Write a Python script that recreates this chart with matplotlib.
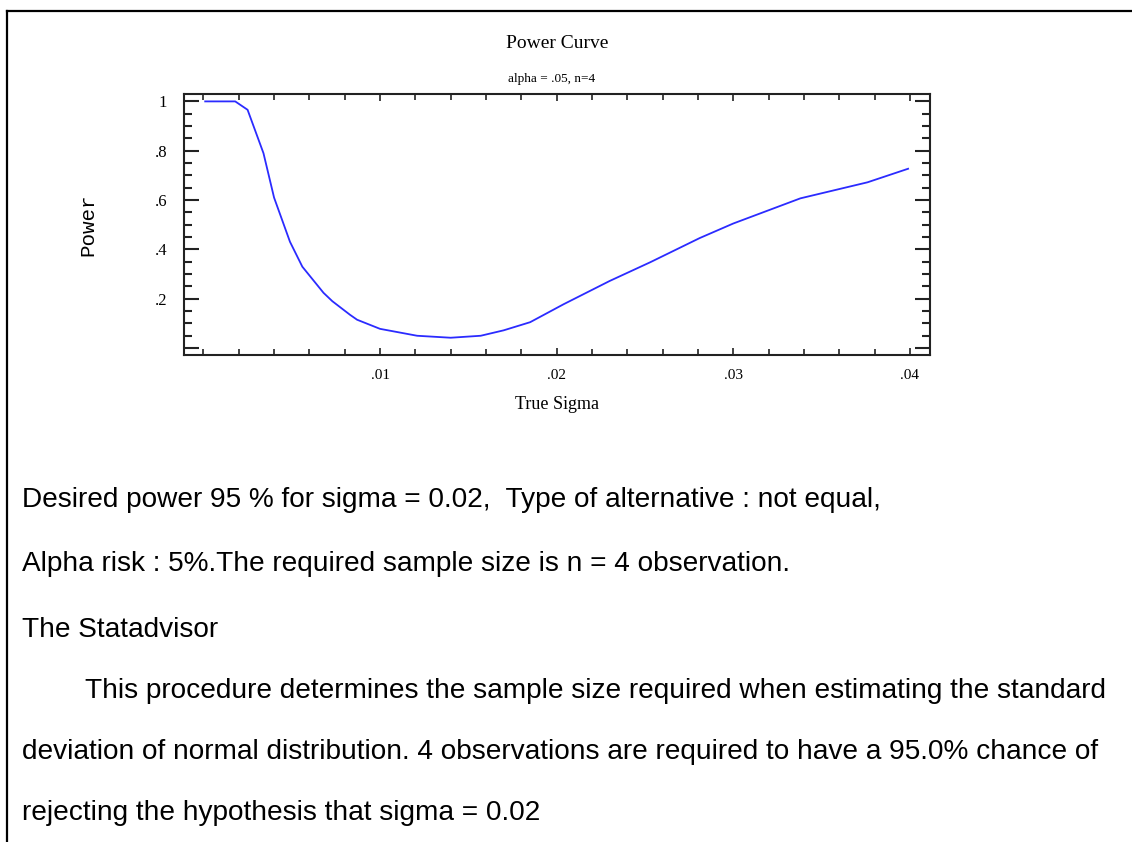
import matplotlib
matplotlib.use("Agg")
import matplotlib.pyplot as plt
from matplotlib.lines import Line2D
from matplotlib.ticker import MultipleLocator, FixedLocator

# ---- data ----
sigma = [0.0001, 0.0018, 0.0025, 0.0034, 0.0040, 0.0049, 0.0056, 0.0068, 0.0073,
         0.0083, 0.0087, 0.0100, 0.0121, 0.0140, 0.0157, 0.0170, 0.0185, 0.0204,
         0.0230, 0.0253, 0.0267, 0.0281, 0.0300, 0.0338, 0.0376, 0.0399]
power = [1.0, 1.0, 0.966, 0.79, 0.61, 0.431, 0.33, 0.224, 0.190,
         0.135, 0.115, 0.078, 0.050, 0.042, 0.050, 0.072, 0.105, 0.178,
         0.272, 0.348, 0.397, 0.446, 0.505, 0.607, 0.672, 0.727]

x_ticks = [0.01, 0.02, 0.03, 0.04]
x_tick_labels = [".01", ".02", ".03", ".04"]
y_ticks = [0.2, 0.4, 0.6, 0.8, 1.0]
y_tick_labels = [".2", ".4", ".6", ".8", "1"]

title = "Power Curve"
subtitle = "alpha = .05, n=4"
xlabel = "True Sigma"
ylabel = "Power"

body_lines = [
    "Desired power 95 % for sigma = 0.02,  Type of alternative : not equal,",
    "Alpha risk : 5%.The required sample size is n = 4 observation.",
    "The Statadvisor",
    "This procedure determines the sample size required when estimating the standard",
    "deviation of normal distribution. 4 observations are required to have a 95.0% chance of",
    "rejecting the hypothesis that sigma = 0.02",
]

# ---- figure ----
W, H = 1132, 842
fig = plt.figure(figsize=(W / 100, H / 100), dpi=100)
fig.patch.set_facecolor("white")

def fx(px):
    return px / W

def fy(py):
    return 1 - py / H

# outer frame (top and left)
fig.add_artist(Line2D([fx(7), 1.0], [fy(11), fy(11)], color="black", lw=1.6))
fig.add_artist(Line2D([fx(7), fx(7)], [fy(11), 0.0], color="black", lw=1.6))

ax_l, ax_r, ax_t, ax_b = 184, 930, 94, 355
ax = fig.add_axes([fx(ax_l), fy(ax_b), fx(ax_r - ax_l), (ax_b - ax_t) / H])
ax.plot(sigma, power, color="#2b2bff", lw=1.3)
ax.set_xlim(-0.0011, 0.04114)
ax.set_ylim(-0.028, 1.03)

serif = ["Liberation Serif", "DejaVu Serif"]

ax.xaxis.set_major_locator(FixedLocator(x_ticks))
ax.set_xticklabels(x_tick_labels, fontfamily=serif, fontsize=11)
ax.xaxis.set_minor_locator(MultipleLocator(0.002))
ax.yaxis.set_major_locator(FixedLocator([0.0] + y_ticks))
ax.set_yticklabels([""] + y_tick_labels, fontfamily=serif, fontsize=12)
ax.yaxis.set_minor_locator(MultipleLocator(0.05))

ax.tick_params(axis="y", which="major", direction="in", length=11, width=1.5,
               left=True, right=True, pad=12, color="#222222")
ax.tick_params(axis="y", which="minor", direction="in", length=6, width=1.5,
               left=True, right=True, color="#222222")
ax.tick_params(axis="x", which="major", direction="in", length=5, width=1.2,
               top=True, bottom=True, pad=10, color="#222222")
ax.tick_params(axis="x", which="minor", direction="in", length=4, width=1.2,
               top=True, bottom=True, color="#222222")
for s in ax.spines.values():
    s.set_linewidth(1.5)
    s.set_color("#222222")

fig.text(fx(557), fy(44), title, ha="center", va="center", fontfamily=serif, fontsize=14)
fig.text(fx(552), fy(79), subtitle, ha="center", va="center", fontfamily=serif, fontsize=9.5)
fig.text(fx(557), fy(404), xlabel, ha="center", va="center", fontfamily=serif, fontsize=13)
fig.text(fx(88), fy(225), ylabel, ha="center", va="center", rotation=90,
         fontfamily=["Liberation Mono", "DejaVu Sans Mono"], fontsize=15)

sans = ["Liberation Sans", "DejaVu Sans"]
line_y = [500, 564, 630, 691, 752, 813]
line_x = [22, 22, 22, 85, 22, 22]
for txt, x, y in zip(body_lines, line_x, line_y):
    fig.text(fx(x), fy(y), txt, ha="left", va="center", fontfamily=sans, fontsize=20.2)

fig.savefig("out.png", dpi=100, facecolor="white")
